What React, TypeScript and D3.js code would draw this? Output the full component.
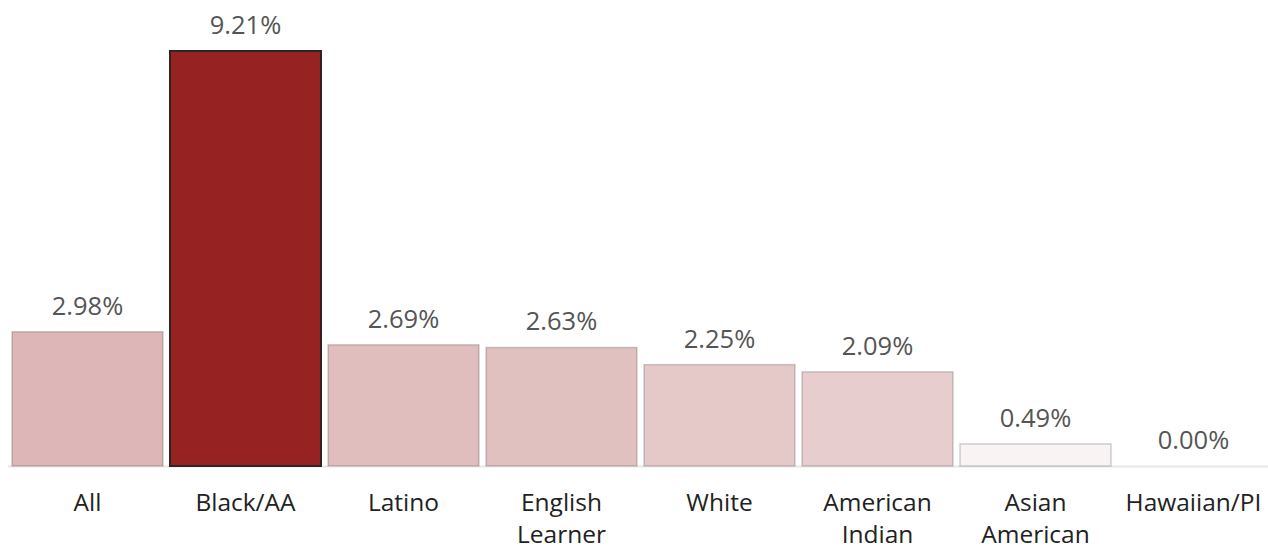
import React from "react";
import * as d3 from "d3";

const categories: string[][] = [
  ["All"],
  ["Black/AA"],
  ["Latino"],
  ["English", "Learner"],
  ["White"],
  ["American", "Indian"],
  ["Asian", "American"],
  ["Hawaiian/PI"],
];
const values: number[] = [2.98, 9.21, 2.69, 2.63, 2.25, 2.09, 0.49, 0.0];
const highlighted = "Black/AA";

const W = 1268;
const H = 550;
const FONT = "'Open Sans', 'Noto Sans', sans-serif";

export default function App() {
  const keys = categories.map((c) => c.join(" "));
  const x = d3
    .scaleBand<string>()
    .domain(keys)
    .range([8.5, 1272.5])
    .paddingInner(0.0443)
    .paddingOuter(0.0221);
  const maxV = d3.max(values) as number;
  const y = d3.scaleLinear().domain([0, maxV]).range([466, 51]);
  const color = d3
    .scaleLinear<string>()
    .domain([0, maxV])
    .range(["#ffffff", "#962222"])
    .interpolate(d3.interpolateRgb);

  return (
    <svg
      width={W}
      height={H}
      style={{ position: "absolute", left: 0, top: 0 }}
      fontFamily={FONT}
    >
      <line x1={8} x2={W} y1={466.5} y2={466.5} stroke="#e8e8e8" strokeWidth={2} />
      {keys.map((k, i) => {
        const v = values[i];
        const x0 = x(k) as number;
        const bw = x.bandwidth();
        const isHi = k === highlighted;
        const top = y(v);
        return (
          <g key={k}>
            {v > 0 && (
              <rect
                x={x0}
                y={top}
                width={bw}
                height={y(0) - top}
                fill={color(v)}
                stroke={isHi ? "#2e2424" : "rgba(0,0,0,0.18)"}
                strokeWidth={isHi ? 2 : 1.5}
              />
            )}
            <text
              x={x0 + bw / 2}
              y={top - 17}
              textAnchor="middle"
              fontSize={25.5}
              fill="#555"
            >
              {d3.format(".2f")(v) + "%"}
            </text>
            {categories[i].map((line, j) => (
              <text
                key={j}
                x={x0 + bw / 2}
                y={511 + j * 32}
                textAnchor="middle"
                fontSize={24.5}
                fill="#222"
              >
                {line}
              </text>
            ))}
          </g>
        );
      })}
    </svg>
  );
}
